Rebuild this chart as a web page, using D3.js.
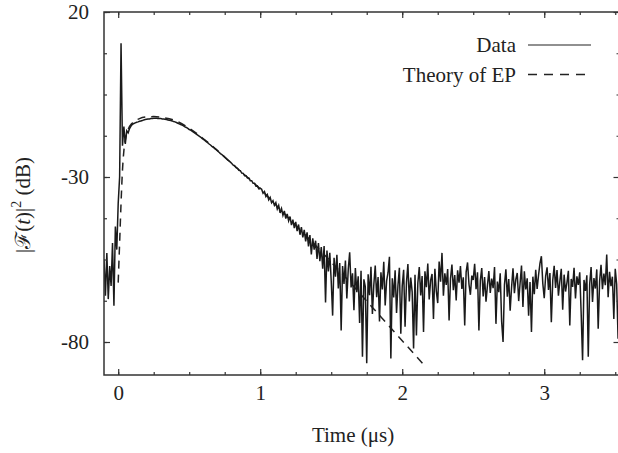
<!DOCTYPE html>
<html>
<head>
<meta charset="utf-8">
<script src="https://cdn.jsdelivr.net/npm/d3@7"></script>
<style>
  body { margin: 0; background: #fff; }
  svg text { font-family: "Liberation Serif", "DejaVu Serif", serif; fill: #222; }
</style>
</head>
<body>
<div id="chart"></div>
<script>
// measured signal, sampled every 0.01 us from -0.1 us
var dataStart = -0.1;
var dataStep = 0.01;
var dataDb = [
  -55, -66, -53, -67, -57, -63, -50, -69, -45, -52,
  -38, -30, 10.5, -20.5, -14.7, -20.0, -16.0, -16.6, -15.3, -14.6,
  -14.0, -13.8, -13.6, -13.4, -13.3, -13.1, -13.0, -12.9, -12.7, -12.6,
  -12.5, -12.4, -12.4, -12.3, -12.3, -12.2, -12.2, -12.2, -12.3, -12.3,
  -12.3, -12.4, -12.4, -12.5, -12.6, -12.7, -12.8, -12.9, -13.0, -13.2,
  -13.3, -13.5, -13.7, -13.9, -14.1, -14.3, -14.5, -14.8, -15.0, -15.3,
  -15.6, -15.8, -16.1, -16.4, -16.7, -17.0, -17.3, -17.6, -17.9, -18.3,
  -18.6, -18.9, -19.3, -19.6, -20.0, -20.3, -20.7, -21.0, -21.4, -21.7,
  -22.1, -22.5, -22.9, -23.2, -23.6, -24.0, -24.4, -24.8, -25.1, -25.5,
  -25.9, -26.4, -26.6, -27.2, -27.4, -28.0, -28.1, -28.8, -28.9, -29.6,
  -29.6, -30.3, -30.3, -31.1, -31.1, -31.9, -31.9, -32.8, -32.7, -33.6,
  -33.4, -33.7, -34.9, -34.4, -35.9, -35.3, -36.9, -36.2, -37.8, -37.2,
  -38.6, -37.8, -39.7, -38.6, -40.9, -39.6, -41.6, -40.3, -42.6, -41.2,
  -43.3, -42.0, -44.6, -42.9, -45.5, -43.6, -46.4, -44.4, -47.5, -45.2,
  -48.3, -46.0, -49.5, -46.8, -51.0, -47.6, -53.5, -48.6, -52.0, -49.3,
  -54.8, -50.0, -55.5, -51.2, -57.8, -50.9, -68.0, -52.3, -58.6, -53.0,
  -61.5, -72.0, -54.5, -60.2, -53.6, -63.8, -56.1, -76.5, -57.0, -62.4,
  -55.3, -66.8, -58.0, -52.8, -63.5, -59.2, -70.4, -57.6, -64.9, -60.1,
  -74.2, -58.4, -84.5, -61.0, -63.2, -86.4, -59.5, -65.8, -57.2, -71.5,
  -62.6, -56.8, -66.4, -60.3, -73.8, -58.9, -64.1, -55.7, -68.9, -61.5,
  -59.0, -54.2, -85.0, -60.7, -66.5, -58.3, -71.2, -62.8, -57.5, -77.5,
  -63.0, -58.1, -75.4, -61.9, -56.4, -67.7, -60.5, -64.8, -82.0, -59.6,
  -78.0, -62.1, -57.3, -65.9, -60.0, -77.0, -58.6, -63.4, -56.2, -67.1,
  -61.3, -59.4, -73.0, -57.8, -64.6, -68.2, -55.6, -61.7, -53.0, -66.0,
  -59.2, -62.7, -57.9, -73.5, -60.8, -56.5, -64.3, -59.7, -67.4, -58.3,
  -62.0, -57.0, -63.9, -60.4, -75.0, -58.8, -55.9, -62.5, -65.7, -59.9,
  -61.2, -56.3, -64.0, -58.9, -76.5, -61.4, -57.6, -66.2, -60.3, -67.8,
  -62.9, -58.5, -65.1, -60.8, -63.7, -57.3, -74.5, -61.7, -64.9, -59.2,
  -73.8, -80.0, -62.6, -58.0, -66.3, -60.9, -70.5, -63.4, -57.7, -65.2,
  -61.0, -59.1, -67.6, -62.2, -56.8, -69.4, -58.6, -64.1, -60.7, -72.0,
  -61.8, -77.0, -60.2, -65.5, -58.1, -63.9, -59.7, -56.2, -54.0, -62.3,
  -66.7, -60.0, -57.4, -64.2, -59.1, -74.0, -61.3, -56.9, -63.6, -58.2,
  -66.0, -61.6, -57.8, -70.2, -59.6, -64.7, -62.0, -58.4, -75.0, -60.9,
  -63.3, -57.5, -66.8, -60.1, -62.7, -58.9, -71.3, -85.5, -61.2, -64.5,
  -59.8, -84.5, -62.4, -57.3, -67.9, -60.6, -63.8, -58.0, -76.0, -61.5,
  -56.6, -64.0, -59.3, -62.8, -53.5, -66.4, -58.7, -63.1, -60.2, -73.0,
  -57.8, -62.5, -79.0
];

// theory of EP
var theoryTime = [0.00, 0.01, 0.02, 0.03, 0.04, 0.05, 0.07, 0.10, 0.15, 0.20, 0.25, 0.30,
  0.40, 0.50, 0.60, 0.70, 0.80, 0.90, 1.00, 1.10, 1.20, 1.30, 1.40, 1.50, 1.60,
  1.70, 1.80, 1.90, 2.00, 2.10, 2.15];
var theoryDb = [-62, -50, -38, -28, -22, -18.8, -15.6, -13.6, -12.3, -11.8, -11.7, -11.9,
  -12.9, -15.2, -18.4, -22.0, -25.9, -29.7, -33.6, -38.0, -42.4, -46.8, -51.2, -55.8, -60.4,
  -65.2, -70.0, -74.8, -79.6, -84.4, -86.8];

var xTickLabels = [0, 1, 2, 3];
var yTickLabels = [20, -30, -80];
var seriesNames = ["Data", "Theory of EP"];

var W = 618, H = 453;
var plotLeft = 104, plotRight = 619.5, plotTop = 12, plotBottom = 375;

var svg = d3.select("#chart").append("svg")
  .attr("width", W).attr("height", H);

var x = d3.scaleLinear().domain([-0.1, 3.53]).range([plotLeft, plotRight]);
var y = d3.scaleLinear().domain([-90, 20]).range([plotBottom, plotTop]);

svg.append("clipPath").attr("id", "plotClip")
  .append("rect")
  .attr("x", plotLeft).attr("y", plotTop)
  .attr("width", plotRight - plotLeft).attr("height", plotBottom - plotTop);

var plot = svg.append("g").attr("clip-path", "url(#plotClip)");

var dataPts = dataDb.map(function (v, i) { return [dataStart + i * dataStep, v]; });
var theoryPts = theoryTime.map(function (t, i) { return [t, theoryDb[i]]; });

var line = d3.line()
  .x(function (d) { return x(d[0]); })
  .y(function (d) { return y(d[1]); });

plot.append("path")
  .datum(theoryPts)
  .attr("fill", "none")
  .attr("stroke", "#222")
  .attr("stroke-width", 1.5)
  .attr("stroke-dasharray", "8,6")
  .attr("d", line.curve(d3.curveMonotoneX));

plot.append("path")
  .datum(dataPts)
  .attr("fill", "none")
  .attr("stroke", "#1a1a1a")
  .attr("stroke-width", 1.5)
  .attr("d", line.curve(d3.curveLinear));

// minor tick values
var xMinor = d3.range(0, 3.51, 0.25);
var yMinor = d3.range(-80, 20.1, 12.5);
var plain = function (d) { return String(d); };

function styleAxis(g) {
  g.select(".domain").remove();
  g.selectAll(".tick line").attr("stroke", "#333").attr("stroke-width", 1.2);
  g.selectAll(".tick text").attr("font-size", 21).attr("fill", "#222")
    .attr("font-family", '"Liberation Serif", serif');
}

// bottom
svg.append("g").attr("transform", "translate(0," + plotBottom + ")")
  .call(d3.axisBottom(x).tickValues(xMinor).tickSize(-3).tickFormat(""))
  .call(styleAxis);
svg.append("g").attr("transform", "translate(0," + plotBottom + ")")
  .call(d3.axisBottom(x).tickValues(xTickLabels).tickSize(-6).tickPadding(10).tickFormat(plain))
  .call(styleAxis);
// top
svg.append("g").attr("transform", "translate(0," + plotTop + ")")
  .call(d3.axisTop(x).tickValues(xMinor).tickSize(-3).tickFormat(""))
  .call(styleAxis);
svg.append("g").attr("transform", "translate(0," + plotTop + ")")
  .call(d3.axisTop(x).tickValues(xTickLabels).tickSize(-6).tickFormat(""))
  .call(styleAxis);
// left
svg.append("g").attr("transform", "translate(" + plotLeft + ",0)")
  .call(d3.axisLeft(y).tickValues(yMinor).tickSize(-3).tickFormat(""))
  .call(styleAxis);
svg.append("g").attr("transform", "translate(" + plotLeft + ",0)")
  .call(d3.axisLeft(y).tickValues(yTickLabels).tickSize(-6).tickPadding(15).tickFormat(plain))
  .call(styleAxis);
// right
svg.append("g").attr("transform", "translate(" + plotRight + ",0)")
  .call(d3.axisRight(y).tickValues(yMinor).tickSize(-3).tickFormat(""))
  .call(styleAxis);
svg.append("g").attr("transform", "translate(" + plotRight + ",0)")
  .call(d3.axisRight(y).tickValues(yTickLabels).tickSize(-6).tickFormat(""))
  .call(styleAxis);

// frame
svg.append("rect")
  .attr("x", plotLeft).attr("y", plotTop)
  .attr("width", plotRight - plotLeft).attr("height", plotBottom - plotTop)
  .attr("fill", "none").attr("stroke", "#333").attr("stroke-width", 1.5);

// axis titles
svg.append("text")
  .attr("x", 353).attr("y", 442)
  .attr("text-anchor", "middle")
  .attr("font-size", 21)
  .text("Time (\u03bcs)");

var yt = svg.append("text")
  .attr("transform", "translate(30,205) rotate(-90)")
  .attr("text-anchor", "middle")
  .attr("font-size", 21);
yt.append("tspan").text("|\u2131(");
yt.append("tspan").attr("font-style", "italic").text("t");
yt.append("tspan").text(")|");
yt.append("tspan").attr("font-size", 14).attr("dy", -9).text("2");
yt.append("tspan").attr("dy", 9).text(" (dB)");

// legend
var legend = svg.append("g");
seriesNames.forEach(function (name, i) {
  var ly = 45 + i * 29.5;
  legend.append("text")
    .attr("x", 516).attr("y", ly + 7)
    .attr("text-anchor", "end")
    .attr("font-size", 21)
    .text(name);
  legend.append("line")
    .attr("x1", 528).attr("x2", 591)
    .attr("y1", ly).attr("y2", ly)
    .attr("stroke", "#222")
    .attr("stroke-width", i === 0 ? 1.2 : 1.5)
    .attr("stroke-dasharray", i === 0 ? null : "9,7");
});
</script>
</body>
</html>
